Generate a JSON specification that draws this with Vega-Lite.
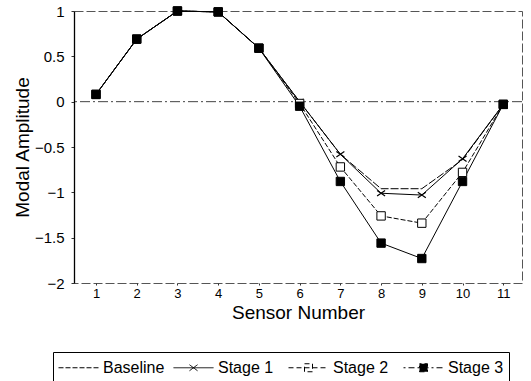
{
  "$schema": "https://vega.github.io/schema/vega-lite/v6.json",
  "width": 448,
  "height": 272,
  "autosize": {"type": "none"},
  "padding": {"left": 74, "top": 11, "right": 9, "bottom": 98},
  "background": "white",
  "config": {
    "font": "Liberation Sans",
    "view": {"stroke": "#555", "strokeWidth": 1, "strokeDash": [9, 3]},
    "axis": {"grid": false, "domainColor": "black", "tickColor": "#333", "labelColor": "black", "titleColor": "black", "labelFont": "Liberation Sans", "titleFont": "Liberation Sans", "titleFontWeight": "normal"}
  },
  "datasets": {
    "modes": [
      {"sensor": 1, "series": "Baseline", "value": 0.08},
      {"sensor": 2, "series": "Baseline", "value": 0.69},
      {"sensor": 3, "series": "Baseline", "value": 1.0},
      {"sensor": 4, "series": "Baseline", "value": 0.99},
      {"sensor": 5, "series": "Baseline", "value": 0.59},
      {"sensor": 6, "series": "Baseline", "value": 0.0},
      {"sensor": 7, "series": "Baseline", "value": -0.58},
      {"sensor": 8, "series": "Baseline", "value": -0.96},
      {"sensor": 9, "series": "Baseline", "value": -0.96},
      {"sensor": 10, "series": "Baseline", "value": -0.64},
      {"sensor": 11, "series": "Baseline", "value": -0.03},
      {"sensor": 1, "series": "Stage 1", "value": 0.08},
      {"sensor": 2, "series": "Stage 1", "value": 0.69},
      {"sensor": 3, "series": "Stage 1", "value": 1.0},
      {"sensor": 4, "series": "Stage 1", "value": 0.99},
      {"sensor": 5, "series": "Stage 1", "value": 0.59},
      {"sensor": 6, "series": "Stage 1", "value": 0.0},
      {"sensor": 7, "series": "Stage 1", "value": -0.58},
      {"sensor": 8, "series": "Stage 1", "value": -1.01},
      {"sensor": 9, "series": "Stage 1", "value": -1.03},
      {"sensor": 10, "series": "Stage 1", "value": -0.63},
      {"sensor": 11, "series": "Stage 1", "value": -0.03},
      {"sensor": 1, "series": "Stage 2", "value": 0.08},
      {"sensor": 2, "series": "Stage 2", "value": 0.69},
      {"sensor": 3, "series": "Stage 2", "value": 1.0},
      {"sensor": 4, "series": "Stage 2", "value": 0.99},
      {"sensor": 5, "series": "Stage 2", "value": 0.59},
      {"sensor": 6, "series": "Stage 2", "value": -0.02},
      {"sensor": 7, "series": "Stage 2", "value": -0.72},
      {"sensor": 8, "series": "Stage 2", "value": -1.26},
      {"sensor": 9, "series": "Stage 2", "value": -1.34},
      {"sensor": 10, "series": "Stage 2", "value": -0.78},
      {"sensor": 11, "series": "Stage 2", "value": -0.03},
      {"sensor": 1, "series": "Stage 3", "value": 0.08},
      {"sensor": 2, "series": "Stage 3", "value": 0.69},
      {"sensor": 3, "series": "Stage 3", "value": 1.0},
      {"sensor": 4, "series": "Stage 3", "value": 0.99},
      {"sensor": 5, "series": "Stage 3", "value": 0.59},
      {"sensor": 6, "series": "Stage 3", "value": -0.05},
      {"sensor": 7, "series": "Stage 3", "value": -0.88},
      {"sensor": 8, "series": "Stage 3", "value": -1.56},
      {"sensor": 9, "series": "Stage 3", "value": -1.73},
      {"sensor": 10, "series": "Stage 3", "value": -0.88},
      {"sensor": 11, "series": "Stage 3", "value": -0.03}
    ],
    "keys": [
      {"label": "Baseline"},
      {"label": "Stage 1"},
      {"label": "Stage 2"},
      {"label": "Stage 3"}
    ]
  },
  "data": {"name": "modes"},
  "encoding": {
    "x": {
      "field": "sensor", "type": "quantitative",
      "scale": {"domain": [0.46, 11.46], "nice": false, "zero": false},
      "axis": {"title": "Sensor Number", "values": [1,2,3,4,5,6,7,8,9,10,11], "format": "d", "labelFontSize": 13, "titleFontSize": 19, "titlePadding": 3, "labelPadding": 2, "tickSize": 2, "domain": false}
    },
    "y": {
      "field": "value", "type": "quantitative",
      "scale": {"domain": [-2, 1], "nice": false, "zero": false},
      "axis": {"title": "Modal Amplitude", "values": [-2,-1.5,-1,-0.5,0,0.5,1], "format": "~g", "labelFontSize": 15, "titleFontSize": 19, "titlePadding": 2, "labelPadding": 7, "tickSize": 3, "domainWidth": 1.3}
    }
  },
  "layer": [
    {
      "data": {"values": [{"zero": 0}]},
      "mark": {"type": "rule", "stroke": "#444", "strokeWidth": 1, "strokeDash": [10, 3, 2, 3]},
      "encoding": {"x": null, "y": {"field": "zero", "type": "quantitative"}}
    },
    {
      "transform": [{"filter": "datum.series === 'Baseline'"}],
      "mark": {"type": "line", "stroke": "black", "strokeWidth": 1, "strokeDash": [8, 2]},
      "encoding": {}
    },
    {
      "transform": [{"filter": "datum.series === 'Stage 2'"}],
      "mark": {"type": "line", "stroke": "black", "strokeWidth": 1, "strokeDash": [5, 2]},
      "encoding": {}
    },
    {
      "transform": [{"filter": "datum.series === 'Stage 1' || datum.series === 'Stage 3'"}],
      "mark": {"type": "line", "stroke": "black", "strokeWidth": 1},
      "encoding": {"detail": {"field": "series"}}
    },
    {
      "transform": [{"filter": "datum.series === 'Stage 1'"}],
      "mark": {"type": "point", "filled": false, "stroke": "black", "strokeWidth": 1.2, "size": 64, "opacity": 1, "shape": "M-1,-0.7L1,0.7M-1,0.7L1,-0.7"},
      "encoding": {}
    },
    {
      "transform": [{"filter": "datum.series === 'Stage 2'"}],
      "mark": {"type": "point", "filled": true, "fill": "white", "stroke": "black", "strokeWidth": 1, "size": 70, "opacity": 1, "shape": "square"},
      "encoding": {}
    },
    {
      "transform": [{"filter": "datum.series === 'Stage 3'"}],
      "mark": {"type": "point", "filled": true, "fill": "black", "stroke": "black", "strokeWidth": 1, "size": 70, "opacity": 1, "shape": "square"},
      "encoding": {}
    },
    {
      "data": {"name": "keys"},
      "mark": {"type": "point", "filled": true, "size": 0, "strokeWidth": 1, "opacity": 1},
      "encoding": {
        "x": null,
        "y": null,
        "shape": {
          "field": "label", "type": "nominal",
          "scale": {"domain": ["Baseline", "Stage 1", "Stage 2", "Stage 3"], "range": ["M-1,0H3", "M-1,0H3M0.6,-0.3L1.4,0.3M0.6,0.3L1.4,-0.3", "M-1,0H3M0.6,-0.4H1.4V0.4H0.6Z", "M-1,0H3M0.6,-0.4H1.4V0.4H0.6Z"]},
          "legend": {
            "title": null,
            "orient": "none",
            "legendX": -21,
            "legendY": 341,
            "direction": "horizontal",
            "columns": 4,
            "gridAlign": "all",
            "strokeColor": "black",
            "padding": 5,
            "labelFontSize": 16,
            "labelColor": "black",
            "labelFont": "Liberation Sans",
            "symbolSize": 400,
            "symbolStrokeWidth": 1,
            "symbolOpacity": 1,
            "columnPadding": 6,
            "labelOffset": 24
          }
        },
        "fill": {
          "field": "label", "type": "nominal",
          "scale": {"domain": ["Baseline", "Stage 1", "Stage 2", "Stage 3"], "range": ["white", "black", "white", "black"]}
        },
        "stroke": {
          "field": "label", "type": "nominal",
          "scale": {"domain": ["Baseline", "Stage 1", "Stage 2", "Stage 3"], "range": ["black", "black", "black", "black"]}
        },
        "strokeDash": {
          "field": "label", "type": "nominal",
          "scale": {"domain": ["Baseline", "Stage 1", "Stage 2", "Stage 3"], "range": [[5, 2], [1, 0], [5, 3], [2, 3, 6, 3]]}
        }
      }
    }
  ]
}
